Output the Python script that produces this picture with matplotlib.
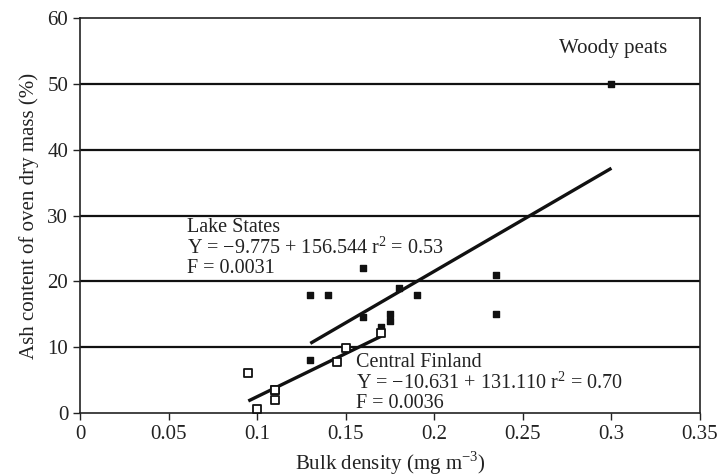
import numpy as np
import matplotlib
matplotlib.use("Agg")
import matplotlib.pyplot as plt

plt.rcParams['font.family'] = ['Liberation Serif', 'DejaVu Serif']
plt.rcParams['mathtext.fontset'] = 'custom'
plt.rcParams['mathtext.rm'] = 'Liberation Serif'

# Lake States / woody peat samples (filled squares)
lakeX = [0.13, 0.14, 0.16, 0.16, 0.13, 0.17, 0.175, 0.175, 0.18, 0.19, 0.235, 0.235, 0.30]
lakeY = [18, 18, 22, 14.6, 8, 13.1, 15, 14, 19, 18, 21, 15, 50]

# Central Finland samples (open squares)
finX = [0.095, 0.10, 0.11, 0.11, 0.11, 0.145, 0.15, 0.17]
finY = [6, 0.6, 3.5, 2.0, 3.5, 7.8, 9.8, 12.2]

# Regression fits: intercept, slope, x-range
lakeFit = (-9.775, 156.544, (0.13, 0.30))
finFit = (-10.631, 131.110, (0.095, 0.17))

lakeNote = "Lake States\nY = −9.775 + 156.544 r$^2$ = 0.53\nF = 0.0031"
finNote = "Central Finland\nY = −10.631 + 131.110 r$^2$ = 0.70\nF = 0.0036"

xTicks = [0, 0.05, 0.1, 0.15, 0.2, 0.25, 0.3, 0.35]
yTicks = [0, 10, 20, 30, 40, 50, 60]

fig = plt.figure(figsize=(7.19, 4.76), dpi=100)
ax = fig.add_axes([0.1113, 0.1324, 0.8623, 0.8296])

# horizontal gridlines
for yv in yTicks[1:-1]:
    ax.axhline(yv, color="#111111", lw=1.6, zorder=1)

ax.scatter(lakeX, lakeY, marker="s", s=22, color="#111111", zorder=3)
ax.scatter(finX, finY, marker="s", s=34, facecolor="white", edgecolor="#111111", linewidth=1.3, zorder=4)

for a, b, (x0, x1) in [lakeFit, finFit]:
    xs = np.array([x0, x1])
    ax.plot(xs, a + b * xs, color="#111111", lw=2.4, zorder=2, solid_capstyle="butt")

ax.set_xlim(0, 0.35)
ax.set_ylim(0, 60)
ax.set_xticks(xTicks)
ax.set_xticklabels(["0", "0.05", "0.1", "0.15", "0.2", "0.25", "0.3", "0.35"])
ax.set_yticks(yTicks)
ax.tick_params(direction="out", length=5, width=1, labelsize=15, colors="#222222")

for s in ax.spines.values():
    s.set_color("#222222")
    s.set_linewidth(1.2)

ax.set_xlabel(r"Bulk density (mg m$^{-3}$)", fontsize=15, color="#222222", labelpad=4)
ax.set_ylabel("Ash content of oven dry mass (%)", fontsize=15, color="#222222", labelpad=6)

# regression notes, anchored at the baseline of the last line
tk = dict(fontsize=14.5, color="#222222", va="baseline", ha="left", linespacing=1.0, zorder=5)
ax.text(0.0604, 21.32, lakeNote, **tk)
ax.text(0.1558, 0.76, finNote, **tk)
ax.text(0.301, 55.4, "Woody peats", fontsize=15, color="#222222", va="center", ha="center")

fig.savefig("out.png", dpi=100)
